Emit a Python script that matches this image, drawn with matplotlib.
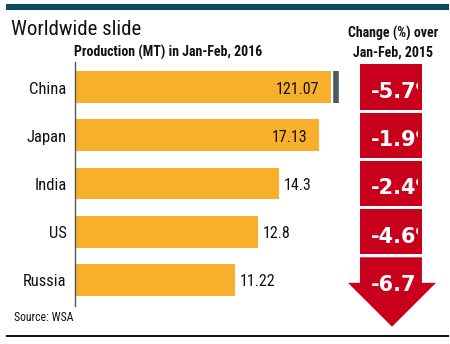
import numpy as np
import matplotlib
matplotlib.use("Agg")
import matplotlib.pyplot as plt
from matplotlib.patches import Polygon, Rectangle

# Data
countries = ["China", "Japan", "India", "US", "Russia"]
production = [121.07, 17.13, 14.3, 12.8, 11.22]      # MT, Jan-Feb 2016
change_labels = ["-5.7%", "-1.9%", "-2.4%", "-4.6%", "-6.7"]

W, H = 450, 344
BAR_COLOR = "#F8AF2C"
RED = "#C9001C"
TEAL = "#0E4A5E"
BREAK_AT = 17.95   # China bar is cut off here

plt.rcParams['font.family'] = ['Roboto Condensed', 'Archivo Narrow', 'DejaVu Sans']


def fx(px):
    return px / W


def fy(py):
    return 1 - py / H


fig = plt.figure(figsize=(W / 100, H / 100), dpi=100)
fig.patch.set_facecolor("white")

# top rule and bottom rule
fig.add_artist(Rectangle((fx(6), fy(10)), fx(443), 6 / H, transform=fig.transFigure,
                         color=TEAL, lw=0))
fig.add_artist(Rectangle((fx(6), fy(337)), fx(443), 2.5 / H, transform=fig.transFigure,
                         color="#111111", lw=0))

fig.text(fx(11), fy(35), "Worldwide slide", fontsize=15, color="#111111")
fig.text(fx(74), fy(56.5), "Production (MT) in Jan-Feb, 2016", fontsize=10,
         fontweight="bold", color="#111111")
fig.text(fx(393), fy(38), "Change (%) over", fontsize=10,
         fontweight="bold", color="#111111", ha="center")
fig.text(fx(393), fy(56.5), "Jan-Feb, 2015", fontsize=10,
         fontweight="bold", color="#111111", ha="center")
fig.text(fx(14), fy(321), "Source: WSA", fontsize=8.5, color="#111111")

# bar panel
top, bottom = 62, 306
ax = fig.add_axes([fx(75), fy(bottom), fx(270), (bottom - top) / H])
y = np.arange(len(countries))
shown = [min(v, BREAK_AT) for v in production]
ax.barh(y, shown, height=0.66, color=BAR_COLOR, lw=0)
ax.set_xlim(0, 270 / 14.27)
ax.set_ylim(len(countries) - 0.46, -0.52)

for i, (v, s) in enumerate(zip(production, shown)):
    if v > 15:
        ax.text(s - 0.85, i + 0.04, f"{v:g}", ha="right", va="center",
                fontsize=11.5, color="#111111")
    else:
        ax.text(s + 0.35, i + 0.04, f"{v:g}", ha="left", va="center",
                fontsize=11.5, color="#111111")
    if v > BREAK_AT:
        ax.plot([s + 0.35, s + 0.35], [i - 0.33, i + 0.33], color="#4A5863",
                lw=4, solid_capstyle="butt")
    ax.text(-0.6, i + 0.04, countries[i], ha="right", va="center",
            fontsize=12, color="#111111")

for side in ["top", "right", "bottom"]:
    ax.spines[side].set_visible(False)
ax.spines["left"].set_color("#555555")
ax.spines["left"].set_linewidth(1)
ax.set_xticks([])
ax.set_yticks([])
ax.patch.set_alpha(0)

# change arrow panel
ax2 = fig.add_axes([fx(348), fy(bottom), fx(88), (bottom - top) / H])
ax2.set_xlim(0, 1)
ax2.set_ylim(ax.get_ylim())
ax2.axis("off")
x0, x1 = 0.136, 0.84
n = len(change_labels)
for i, lab in enumerate(change_labels):
    if i < n - 1:
        shape = Rectangle((x0, i - 0.47), x1 - x0, 0.94, color=RED, lw=0,
                          clip_on=False)
    else:
        shoulder = i + 0.06
        shape = Polygon([(x0, i - 0.47), (x1, i - 0.47), (x1, shoulder),
                         (1.0, shoulder), (0.5, i + 0.97), (0.0, shoulder),
                         (x0, shoulder)], closed=True, color=RED, lw=0,
                        clip_on=False)
    ax2.add_patch(shape)
    t = ax2.text(0.26, i + 0.1, lab, ha="left", va="center", fontsize=15,
                 fontweight="bold", color="white", family="DejaVu Sans")
    # the labels are cut off at the right edge of each box
    clip = Rectangle((x0, i - 0.47), x1 - x0 - 0.05, 0.94, transform=ax2.transData)
    t.set_clip_on(True)
    t.set_clip_path(clip)

fig.savefig("out.png", dpi=100)
